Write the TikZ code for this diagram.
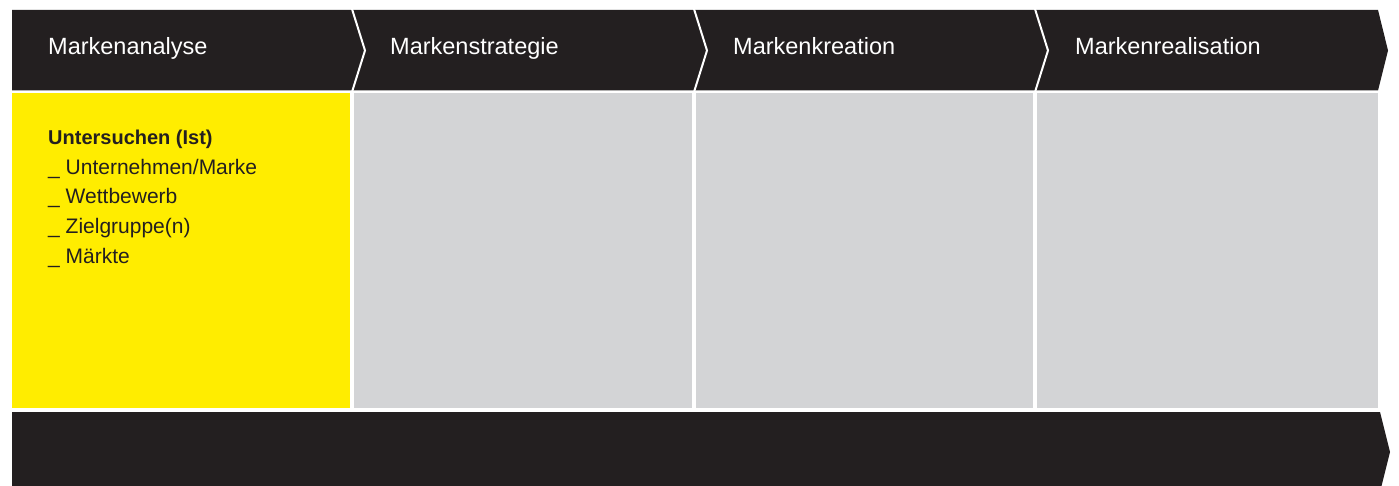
\documentclass[tikz,border=0pt]{standalone}
\usepackage{fontspec}
\setmainfont{Liberation Sans}
\definecolor{brandblack}{HTML}{231F20}
\definecolor{brandyellow}{HTML}{FFED00}
\definecolor{panelgray}{HTML}{D3D4D6}

\begin{document}
\begin{tikzpicture}[x=1pt,y=-1pt,
		phase/.style={anchor=base west,text=white,inner sep=0pt,font=\fontsize{23.5}{28}\selectfont},
		item/.style={anchor=base west,text=brandblack,inner sep=0pt,font=\fontsize{21}{25}\selectfont}]
			\useasboundingbox (0,0) rectangle (1399,486);
			\clip (0,0) rectangle (1399,486);

			% header arrow
			\fill[brandblack] (12,10) -- (1378,10) -- (1388,50.5) -- (1378,90.5) -- (12,90.5) -- cycle;
			\foreach \x in {352,694,1035}
				\draw[white,line width=2pt] (\x,9) -- (\x+13,50.5) -- (\x,92);

			% columns
			\fill[brandyellow] (12,93.5) rectangle (350,408);
			\fill[panelgray] (354,93.5) rectangle (692,408);
			\fill[panelgray] (696,93.5) rectangle (1033,408);
			\fill[panelgray] (1037,93.5) rectangle (1378,408);

			% bottom arrow
			\fill[brandblack] (12,412) -- (1380,412) -- (1390,452) -- (1380,492) -- (12,492) -- cycle;

			\node[phase] (analyse) at (48,55) {Markenanalyse};
			\node[phase] (strategie) at (390,55) {Markenstrategie};
			\node[phase] (kreation) at (733,55) {Markenkreation};
			\node[phase] (realisation) at (1075,55) {Markenrealisation};

			\node[item,font=\fontsize{20}{24}\selectfont\bfseries] (ist) at (48,145) {Untersuchen (Ist)};
			\node[item] (unternehmen) at (48,174.5) {\_ Unternehmen/Marke};
			\node[item] (wettbewerb) at (48,204) {\_ Wettbewerb};
			\node[item] (zielgruppe) at (48,233.5) {\_ Zielgruppe(n)};
			\node[item] (maerkte) at (48,263) {\_ Märkte};
		\end{tikzpicture}
\end{document}
